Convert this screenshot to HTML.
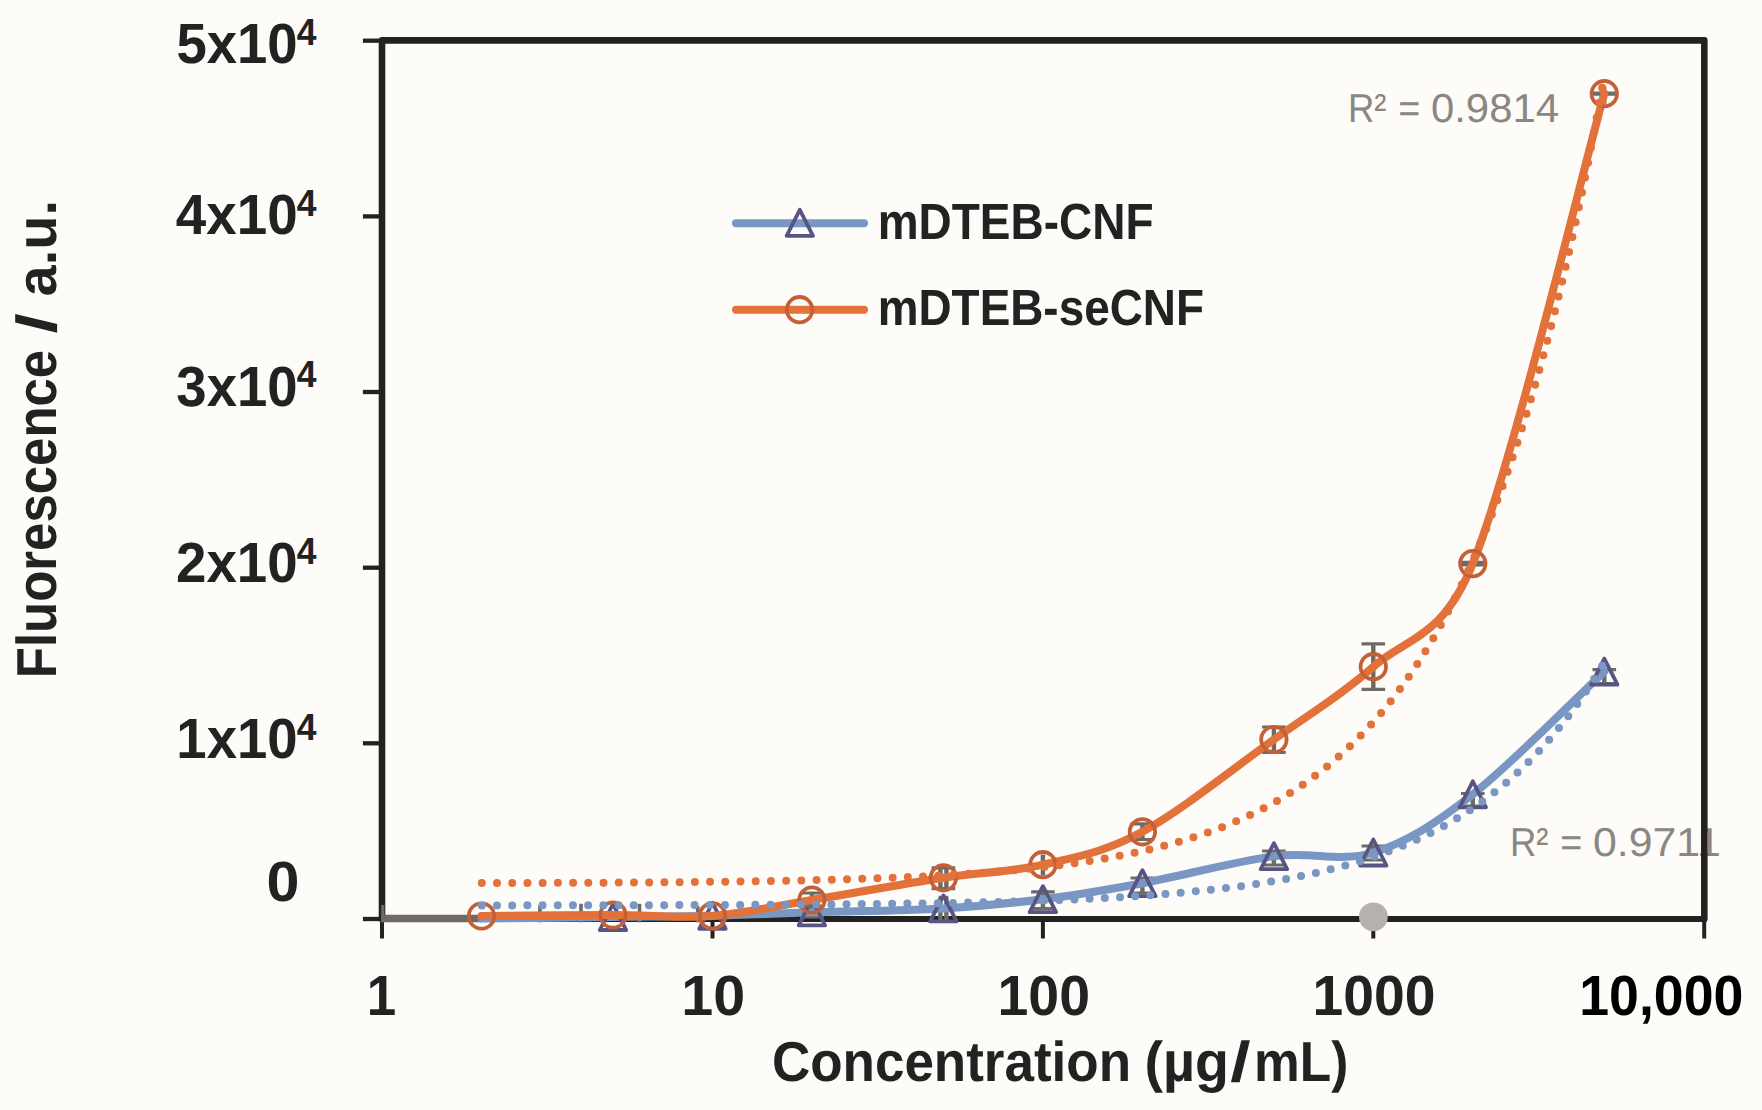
<!DOCTYPE html>
<html lang="en"><head><meta charset="utf-8"><title>Fluorescence vs Concentration</title>
<style>html,body{margin:0;padding:0;background:#FDFCF8}body{width:1762px;height:1110px;overflow:hidden}svg{display:block}text{font-family:"Liberation Sans",sans-serif;text-rendering:geometricPrecision}.b{font-weight:bold;fill:#222222}</style></head><body>
<svg width="1762" height="1110" viewBox="0 0 1762 1110">
<rect width="1762" height="1110" fill="#FDFCF8"/>
<text y="121.5" font-size="40.3" fill="#8B8682"><tspan x="1347.88" textLength="38.52" lengthAdjust="spacingAndGlyphs">R²</tspan> <tspan x="1398.16" textLength="22.02" lengthAdjust="spacingAndGlyphs">=</tspan> <tspan x="1430.94" textLength="128.10" lengthAdjust="spacingAndGlyphs">0.9814</tspan></text>
<text y="855.6" font-size="40.3" fill="#8B8682"><tspan x="1509.98" textLength="38.52" lengthAdjust="spacingAndGlyphs">R²</tspan> <tspan x="1560.26" textLength="22.02" lengthAdjust="spacingAndGlyphs">=</tspan> <tspan x="1593.00" textLength="127.81" lengthAdjust="spacingAndGlyphs">0.9711</tspan></text>
<path d="M382.0 919.0 V40.4 H1704.3 V919.0" fill="none" stroke="#222222" stroke-width="6.6" stroke-linejoin="round" stroke-linecap="round"/>
<path d="M382.0 919.0 H1704.3" fill="none" stroke="#222222" stroke-width="5.8" stroke-linecap="round"/>
<line x1="362.9" x2="382" y1="919.0" y2="919.0" stroke="#222222" stroke-width="4.3"/>
<line x1="362.9" x2="382" y1="743.3" y2="743.3" stroke="#222222" stroke-width="4.3"/>
<line x1="362.9" x2="382" y1="567.7" y2="567.7" stroke="#222222" stroke-width="4.3"/>
<line x1="362.9" x2="382" y1="392.0" y2="392.0" stroke="#222222" stroke-width="4.3"/>
<line x1="362.9" x2="382" y1="216.4" y2="216.4" stroke="#222222" stroke-width="4.3"/>
<line x1="362.9" x2="382" y1="40.7" y2="40.7" stroke="#222222" stroke-width="4.3"/>
<line x1="382.0" x2="382.0" y1="918" y2="938.5" stroke="#222222" stroke-width="4"/>
<line x1="712.5" x2="712.5" y1="918" y2="938.5" stroke="#222222" stroke-width="4"/>
<line x1="1042.9" x2="1042.9" y1="918" y2="938.5" stroke="#222222" stroke-width="4"/>
<line x1="1373.3" x2="1373.3" y1="918" y2="938.5" stroke="#222222" stroke-width="4"/>
<line x1="1704.2" x2="1704.2" y1="918" y2="938.5" stroke="#222222" stroke-width="4"/>
<path d="M381 918.5 H482" fill="none" stroke="#6E6A64" stroke-width="7.4"/>
<path d="M382.8 905 V920" fill="none" stroke="#6E6A64" stroke-width="3.2"/>
<line x1="539.9" x2="539.9" y1="905.5" y2="922.3" stroke="#6E6A64" stroke-width="3.6"/>
<line x1="581.0" x2="581.0" y1="903.8" y2="922.3" stroke="#6E6A64" stroke-width="3.6"/>
<line x1="639.5" x2="639.5" y1="903.8" y2="922.3" stroke="#6E6A64" stroke-width="3.6"/>
<line x1="697.7" x2="697.7" y1="906.0" y2="922.3" stroke="#6E6A64" stroke-width="3.6"/>
<path d="M811.9 908.0 V917.0" fill="none" stroke="#6E6A64" stroke-width="4.4"/><path d="M800.1 908.0 H823.7M800.1 917.0 H823.7" fill="none" stroke="#6E6A64" stroke-width="3.2"/>
<path d="M940.4 897.4 V921.0" fill="none" stroke="#6E6A64" stroke-width="4.4"/><path d="M946.4 897.4 V921.0" fill="none" stroke="#6E6A64" stroke-width="4.4"/><path d="M938.6 897.4 H948.2M938.6 921.0 H948.2" fill="none" stroke="#6E6A64" stroke-width="3.2"/>
<path d="M1042.9 891.8 V908.7" fill="none" stroke="#6E6A64" stroke-width="4.4"/><path d="M1031.1 891.8 H1054.7M1031.1 908.7 H1054.7" fill="none" stroke="#6E6A64" stroke-width="3.2"/>
<path d="M1142.4 878.0 V893.0" fill="none" stroke="#6E6A64" stroke-width="4.4"/><path d="M1130.6 878.0 H1154.2M1130.6 893.0 H1154.2" fill="none" stroke="#6E6A64" stroke-width="3.2"/>
<path d="M1273.9 851.0 V865.0" fill="none" stroke="#6E6A64" stroke-width="4.4"/><path d="M1262.1 851.0 H1285.7M1262.1 865.0 H1285.7" fill="none" stroke="#6E6A64" stroke-width="3.2"/>
<path d="M1373.3 846.0 V860.0" fill="none" stroke="#6E6A64" stroke-width="4.4"/><path d="M1361.5 846.0 H1385.1M1361.5 860.0 H1385.1" fill="none" stroke="#6E6A64" stroke-width="3.2"/>
<path d="M1472.8 793.5 V806.0" fill="none" stroke="#6E6A64" stroke-width="4.4"/><path d="M1461.0 793.5 H1484.6M1461.0 806.0 H1484.6" fill="none" stroke="#6E6A64" stroke-width="3.2"/>
<path d="M1604.3 669.7 V683.5" fill="none" stroke="#6E6A64" stroke-width="4.4"/><path d="M1592.5 669.7 H1616.1M1592.5 683.5 H1616.1" fill="none" stroke="#6E6A64" stroke-width="3.2"/>
<path d="M481.5 918.5 C503.4 918.2 574.5 917.5 613.0 917.0 C651.5 916.5 679.3 916.6 712.5 915.8 C745.6 915.0 773.4 913.5 811.9 912.3 C850.4 911.1 904.9 910.6 943.4 908.4 C981.9 906.2 1009.7 903.4 1042.9 899.2 C1076.1 895.0 1103.9 890.4 1142.4 883.2 C1180.9 876.0 1235.4 861.3 1273.9 856.2 C1312.4 851.1 1340.2 862.8 1373.3 852.5 C1406.5 842.2 1434.3 824.4 1472.8 794.3 C1511.3 764.1 1582.4 692.0 1604.3 671.6" fill="none" stroke="#7A97C3" stroke-width="8" stroke-linecap="round" stroke-linejoin="round"/>
<path d="M613.0 904.0 L626.2 930.0 L599.8 930.0 Z" fill="none" stroke="#585484" stroke-width="3.8" stroke-linejoin="round"/>
<path d="M712.5 902.8 L725.7 928.8 L699.2 928.8 Z" fill="none" stroke="#585484" stroke-width="3.8" stroke-linejoin="round"/>
<path d="M811.9 899.3 L825.1 925.3 L798.7 925.3 Z" fill="none" stroke="#585484" stroke-width="3.8" stroke-linejoin="round"/>
<path d="M943.4 895.4 L956.6 921.4 L930.2 921.4 Z" fill="none" stroke="#585484" stroke-width="3.8" stroke-linejoin="round"/>
<path d="M1042.9 886.2 L1056.1 912.2 L1029.7 912.2 Z" fill="none" stroke="#585484" stroke-width="3.8" stroke-linejoin="round"/>
<path d="M1142.4 870.2 L1155.6 896.2 L1129.2 896.2 Z" fill="none" stroke="#585484" stroke-width="3.8" stroke-linejoin="round"/>
<path d="M1273.9 843.2 L1287.1 869.2 L1260.7 869.2 Z" fill="none" stroke="#585484" stroke-width="3.8" stroke-linejoin="round"/>
<path d="M1373.3 839.5 L1386.5 865.5 L1360.1 865.5 Z" fill="none" stroke="#585484" stroke-width="3.8" stroke-linejoin="round"/>
<path d="M1472.8 781.3 L1486.0 807.3 L1459.6 807.3 Z" fill="none" stroke="#585484" stroke-width="3.8" stroke-linejoin="round"/>
<path d="M1604.3 658.6 L1617.5 684.6 L1591.1 684.6 Z" fill="none" stroke="#585484" stroke-width="3.8" stroke-linejoin="round"/>
<path d="M811.9 893.0 V906.0" fill="none" stroke="#6E6A64" stroke-width="4.4"/><path d="M800.1 893.0 H823.7M800.1 906.0 H823.7" fill="none" stroke="#6E6A64" stroke-width="3.2"/>
<path d="M940.4 867.8 V888.7" fill="none" stroke="#6E6A64" stroke-width="4.4"/><path d="M946.4 867.8 V888.7" fill="none" stroke="#6E6A64" stroke-width="4.4"/><path d="M931.6 867.8 H955.2M931.6 888.7 H955.2" fill="none" stroke="#6E6A64" stroke-width="3.2"/>
<path d="M1042.9 854.5 V875.5" fill="none" stroke="#6E6A64" stroke-width="4.4"/>
<path d="M1142.4 823.8 V839.5" fill="none" stroke="#6E6A64" stroke-width="4.4"/><path d="M1130.6 823.8 H1154.2M1130.6 839.5 H1154.2" fill="none" stroke="#6E6A64" stroke-width="3.2"/>
<path d="M1273.9 727.0 V752.3" fill="none" stroke="#6E6A64" stroke-width="4.4"/><path d="M1262.1 727.0 H1285.7M1262.1 752.3 H1285.7" fill="none" stroke="#6E6A64" stroke-width="3.2"/>
<path d="M1373.3 643.8 V689.3" fill="none" stroke="#6E6A64" stroke-width="4.4"/><path d="M1361.5 643.8 H1385.1M1361.5 689.3 H1385.1" fill="none" stroke="#6E6A64" stroke-width="3.2"/>
<path d="M1472.8 562.4 V564.8" fill="none" stroke="#6E6A64" stroke-width="4.4"/><path d="M1461.0 562.4 H1484.6M1461.0 564.8 H1484.6" fill="none" stroke="#6E6A64" stroke-width="3.2"/>
<path d="M1604.3 93.2 V94.2" fill="none" stroke="#6E6A64" stroke-width="4.4"/><path d="M1592.5 93.2 H1616.1M1592.5 94.2 H1616.1" fill="none" stroke="#6E6A64" stroke-width="3.2"/>
<path d="M1604.6 87 V104" fill="none" stroke="#6E6A64" stroke-width="3.6"/>
<path d="M481.5 916.0 C503.4 915.9 574.5 915.0 613.0 915.0 C651.5 915.0 679.3 918.4 712.5 915.9 C745.6 913.4 773.4 906.3 811.9 900.0 C850.4 893.6 904.9 883.7 943.4 877.8 C981.9 871.9 1009.7 872.4 1042.9 864.7 C1076.1 857.0 1103.9 852.7 1142.4 831.8 C1180.9 810.9 1235.4 767.0 1273.9 739.5 C1312.4 712.0 1340.2 696.0 1373.3 666.7 C1406.5 637.4 1442.3 639.3 1472.8 563.6 C1511.3 468.1 1582.4 172.0 1604.3 93.7" fill="none" stroke="#E2723A" stroke-width="8" stroke-linecap="round" stroke-linejoin="round"/>
<circle cx="481.5" cy="916.0" r="12.7" fill="none" stroke="#C46038" stroke-width="3.8"/>
<circle cx="613.0" cy="915.0" r="12.7" fill="none" stroke="#C46038" stroke-width="3.8"/>
<circle cx="712.5" cy="915.9" r="12.7" fill="none" stroke="#C46038" stroke-width="3.8"/>
<circle cx="811.9" cy="900.0" r="12.7" fill="none" stroke="#C46038" stroke-width="3.8"/>
<circle cx="943.4" cy="877.8" r="12.7" fill="none" stroke="#C46038" stroke-width="3.8"/>
<circle cx="1042.9" cy="864.7" r="12.7" fill="none" stroke="#C46038" stroke-width="3.8"/>
<circle cx="1142.4" cy="831.8" r="12.7" fill="none" stroke="#C46038" stroke-width="3.8"/>
<circle cx="1273.9" cy="739.5" r="12.7" fill="none" stroke="#C46038" stroke-width="3.8"/>
<circle cx="1373.3" cy="666.7" r="12.7" fill="none" stroke="#C46038" stroke-width="3.8"/>
<circle cx="1472.8" cy="563.6" r="12.7" fill="none" stroke="#C46038" stroke-width="3.8"/>
<circle cx="1604.3" cy="93.7" r="12.7" fill="none" stroke="#C46038" stroke-width="3.8"/>
<path d="M1602.18 665.70 L1599.38 670.34 L1596.58 674.88 L1593.78 679.34 L1590.98 683.72 L1588.18 688.00 L1585.37 692.21 L1582.57 696.33 L1579.77 700.38 L1576.97 704.34 L1574.17 708.23 L1571.37 712.05 L1568.56 715.79 L1565.76 719.45 L1562.96 723.05 L1560.16 726.58 L1557.36 730.04 L1554.55 733.43 L1551.75 736.76 L1548.95 740.02 L1546.15 743.22 L1543.35 746.35 L1540.55 749.43 L1537.74 752.45 L1534.94 755.41 L1532.14 758.31 L1529.34 761.16 L1526.54 763.95 L1523.74 766.68 L1520.93 769.37 L1518.13 772.00 L1515.33 774.58 L1512.53 777.11 L1509.73 779.59 L1506.92 782.03 L1504.12 784.41 L1501.32 786.76 L1498.52 789.05 L1495.72 791.30 L1492.92 793.51 L1490.11 795.68 L1487.31 797.80 L1484.51 799.88 L1481.71 801.92 L1478.91 803.93 L1476.10 805.89 L1473.30 807.82 L1470.50 809.70 L1467.70 811.56 L1464.90 813.37 L1462.10 815.15 L1459.29 816.90 L1456.49 818.61 L1453.69 820.29 L1450.89 821.94 L1448.09 823.56 L1445.29 825.14 L1442.48 826.69 L1439.68 828.22 L1436.88 829.71 L1434.08 831.18 L1431.28 832.61 L1428.47 834.02 L1425.67 835.40 L1422.87 836.76 L1420.07 838.09 L1417.27 839.39 L1414.47 840.67 L1411.66 841.92 L1408.86 843.15 L1406.06 844.36 L1403.26 845.54 L1400.46 846.70 L1397.66 847.84 L1394.85 848.95 L1392.05 850.04 L1389.25 851.12 L1386.45 852.17 L1383.65 853.20 L1380.84 854.21 L1378.04 855.20 L1375.24 856.17 L1372.44 857.13 L1369.64 858.06 L1366.84 858.98 L1364.03 859.88 L1361.23 860.76 L1358.43 861.63 L1355.63 862.47 L1352.83 863.31 L1350.03 864.12 L1347.22 864.92 L1344.42 865.71 L1341.62 866.48 L1338.82 867.23 L1336.02 867.97 L1333.21 868.70 L1330.41 869.41 L1327.61 870.11 L1324.81 870.79 L1322.01 871.46 L1319.21 872.12 L1316.40 872.76 L1313.60 873.40 L1310.80 874.02 L1308.00 874.63 L1305.20 875.22 L1302.40 875.81 L1299.59 876.38 L1296.79 876.95 L1293.99 877.50 L1291.19 878.04 L1288.39 878.57 L1285.58 879.09 L1282.78 879.60 L1279.98 880.10 L1277.18 880.59 L1274.38 881.07 L1271.58 881.55 L1268.77 882.01 L1265.97 882.46 L1263.17 882.91 L1260.37 883.35 L1257.57 883.77 L1254.76 884.19 L1251.96 884.61 L1249.16 885.01 L1246.36 885.41 L1243.56 885.80 L1240.76 886.18 L1237.95 886.55 L1235.15 886.92 L1232.35 887.28 L1229.55 887.63 L1226.75 887.97 L1223.95 888.31 L1221.14 888.64 L1218.34 888.97 L1215.54 889.29 L1212.74 889.60 L1209.94 889.91 L1207.13 890.21 L1204.33 890.51 L1201.53 890.80 L1198.73 891.08 L1195.93 891.36 L1193.13 891.63 L1190.32 891.90 L1187.52 892.16 L1184.72 892.42 L1181.92 892.68 L1179.12 892.92 L1176.32 893.17 L1173.51 893.40 L1170.71 893.64 L1167.91 893.87 L1165.11 894.09 L1162.31 894.31 L1159.50 894.53 L1156.70 894.74 L1153.90 894.95 L1151.10 895.15 L1148.30 895.35 L1145.50 895.55 L1142.69 895.74 L1139.89 895.93 L1137.09 896.12 L1134.29 896.30 L1131.49 896.48 L1128.69 896.65 L1125.88 896.82 L1123.08 896.99 L1120.28 897.15 L1117.48 897.31 L1114.68 897.47 L1111.87 897.63 L1109.07 897.78 L1106.27 897.93 L1103.47 898.08 L1100.67 898.22 L1097.87 898.36 L1095.06 898.50 L1092.26 898.63 L1089.46 898.77 L1086.66 898.90 L1083.86 899.02 L1081.05 899.15 L1078.25 899.27 L1075.45 899.39 L1072.65 899.51 L1069.85 899.63 L1067.05 899.74 L1064.24 899.85 L1061.44 899.96 L1058.64 900.07 L1055.84 900.17 L1053.04 900.28 L1050.24 900.38 L1047.43 900.48 L1044.63 900.57 L1041.83 900.67 L1039.03 900.76 L1036.23 900.85 L1033.42 900.94 L1030.62 901.03 L1027.82 901.12 L1025.02 901.20 L1022.22 901.29 L1019.42 901.37 L1016.61 901.45 L1013.81 901.53 L1011.01 901.60 L1008.21 901.68 L1005.41 901.75 L1002.61 901.82 L999.80 901.89 L997.00 901.96 L994.20 902.03 L991.40 902.10 L988.60 902.17 L985.79 902.23 L982.99 902.29 L980.19 902.36 L977.39 902.42 L974.59 902.48 L971.79 902.53 L968.98 902.59 L966.18 902.65 L963.38 902.70 L960.58 902.76 L957.78 902.81 L954.98 902.86 L952.17 902.91 L949.37 902.96 L946.57 903.01 L943.77 903.06 L940.97 903.11 L938.16 903.15 L935.36 903.20 L932.56 903.24 L929.76 903.29 L926.96 903.33 L924.16 903.37 L921.35 903.41 L918.55 903.45 L915.75 903.49 L912.95 903.53 L910.15 903.57 L907.34 903.61 L904.54 903.64 L901.74 903.68 L898.94 903.71 L896.14 903.75 L893.34 903.78 L890.53 903.82 L887.73 903.85 L884.93 903.88 L882.13 903.91 L879.33 903.94 L876.53 903.97 L873.72 904.00 L870.92 904.03 L868.12 904.06 L865.32 904.09 L862.52 904.11 L859.71 904.14 L856.91 904.17 L854.11 904.19 L851.31 904.22 L848.51 904.24 L845.71 904.27 L842.90 904.29 L840.10 904.32 L837.30 904.34 L834.50 904.36 L831.70 904.38 L828.90 904.40 L826.09 904.43 L823.29 904.45 L820.49 904.47 L817.69 904.49 L814.89 904.51 L812.08 904.53 L809.28 904.54 L806.48 904.56 L803.68 904.58 L800.88 904.60 L798.08 904.62 L795.27 904.63 L792.47 904.65 L789.67 904.67 L786.87 904.68 L784.07 904.70 L781.27 904.71 L778.46 904.73 L775.66 904.74 L772.86 904.76 L770.06 904.77 L767.26 904.79 L764.45 904.80 L761.65 904.81 L758.85 904.83 L756.05 904.84 L753.25 904.85 L750.45 904.87 L747.64 904.88 L744.84 904.89 L742.04 904.90 L739.24 904.91 L736.44 904.92 L733.63 904.94 L730.83 904.95 L728.03 904.96 L725.23 904.97 L722.43 904.98 L719.63 904.99 L716.82 905.00 L714.02 905.01 L711.22 905.02 L708.42 905.03 L705.62 905.04 L702.82 905.04 L700.01 905.05 L697.21 905.06 L694.41 905.07 L691.61 905.08 L688.81 905.09 L686.00 905.10 L683.20 905.10 L680.40 905.11 L677.60 905.12 L674.80 905.13 L672.00 905.13 L669.19 905.14 L666.39 905.15 L663.59 905.15 L660.79 905.16 L657.99 905.17 L655.19 905.17 L652.38 905.18 L649.58 905.19 L646.78 905.19 L643.98 905.20 L641.18 905.20 L638.37 905.21 L635.57 905.22 L632.77 905.22 L629.97 905.23 L627.17 905.23 L624.37 905.24 L621.56 905.24 L618.76 905.25 L615.96 905.25 L613.16 905.26 L610.36 905.26 L607.56 905.27 L604.75 905.27 L601.95 905.27 L599.15 905.28 L596.35 905.28 L593.55 905.29 L590.74 905.29 L587.94 905.30 L585.14 905.30 L582.34 905.30 L579.54 905.31 L576.74 905.31 L573.93 905.31 L571.13 905.32 L568.33 905.32 L565.53 905.33 L562.73 905.33 L559.93 905.33 L557.12 905.34 L554.32 905.34 L551.52 905.34 L548.72 905.34 L545.92 905.35 L543.11 905.35 L540.31 905.35 L537.51 905.36 L534.71 905.36 L531.91 905.36 L529.11 905.36 L526.30 905.37 L523.50 905.37 L520.70 905.37 L517.90 905.37 L515.10 905.38 L512.29 905.38 L509.49 905.38 L506.69 905.38 L503.89 905.39 L501.09 905.39 L498.29 905.39 L495.48 905.39 L492.68 905.39 L489.88 905.40 L487.08 905.40 L484.28 905.40 L481.48 905.40" fill="none" stroke="#7A97C3" stroke-width="8" stroke-linecap="round" stroke-dasharray="0 15.1989"/>
<path d="M1602.18 87.87 L1599.38 103.25 L1596.58 118.34 L1593.78 133.13 L1590.98 147.63 L1588.18 161.86 L1585.37 175.81 L1582.57 189.49 L1579.77 202.91 L1576.97 216.06 L1574.17 228.96 L1571.37 241.62 L1568.56 254.03 L1565.76 266.19 L1562.96 278.13 L1560.16 289.83 L1557.36 301.31 L1554.55 312.56 L1551.75 323.60 L1548.95 334.42 L1546.15 345.03 L1543.35 355.44 L1540.55 365.65 L1537.74 375.66 L1534.94 385.48 L1532.14 395.10 L1529.34 404.55 L1526.54 413.80 L1523.74 422.88 L1520.93 431.79 L1518.13 440.52 L1515.33 449.08 L1512.53 457.48 L1509.73 465.71 L1506.92 473.79 L1504.12 481.71 L1501.32 489.48 L1498.52 497.09 L1495.72 504.56 L1492.92 511.89 L1490.11 519.07 L1487.31 526.11 L1484.51 533.02 L1481.71 539.80 L1478.91 546.44 L1476.10 552.95 L1473.30 559.34 L1470.50 565.61 L1467.70 571.75 L1464.90 577.78 L1462.10 583.69 L1459.29 589.48 L1456.49 595.17 L1453.69 600.74 L1450.89 606.20 L1448.09 611.56 L1445.29 616.82 L1442.48 621.97 L1439.68 627.03 L1436.88 631.98 L1434.08 636.85 L1431.28 641.61 L1428.47 646.29 L1425.67 650.87 L1422.87 655.37 L1420.07 659.78 L1417.27 664.10 L1414.47 668.34 L1411.66 672.50 L1408.86 676.58 L1406.06 680.58 L1403.26 684.50 L1400.46 688.34 L1397.66 692.12 L1394.85 695.81 L1392.05 699.44 L1389.25 703.00 L1386.45 706.49 L1383.65 709.91 L1380.84 713.26 L1378.04 716.55 L1375.24 719.78 L1372.44 722.94 L1369.64 726.04 L1366.84 729.09 L1364.03 732.07 L1361.23 735.00 L1358.43 737.87 L1355.63 740.68 L1352.83 743.44 L1350.03 746.15 L1347.22 748.80 L1344.42 751.40 L1341.62 753.96 L1338.82 756.46 L1336.02 758.91 L1333.21 761.32 L1330.41 763.68 L1327.61 766.00 L1324.81 768.27 L1322.01 770.49 L1319.21 772.68 L1316.40 774.82 L1313.60 776.92 L1310.80 778.98 L1308.00 780.99 L1305.20 782.97 L1302.40 784.92 L1299.59 786.82 L1296.79 788.69 L1293.99 790.52 L1291.19 792.32 L1288.39 794.08 L1285.58 795.81 L1282.78 797.50 L1279.98 799.16 L1277.18 800.79 L1274.38 802.39 L1271.58 803.95 L1268.77 805.49 L1265.97 807.00 L1263.17 808.47 L1260.37 809.92 L1257.57 811.34 L1254.76 812.74 L1251.96 814.10 L1249.16 815.44 L1246.36 816.76 L1243.56 818.05 L1240.76 819.31 L1237.95 820.55 L1235.15 821.77 L1232.35 822.96 L1229.55 824.13 L1226.75 825.27 L1223.95 826.40 L1221.14 827.50 L1218.34 828.58 L1215.54 829.64 L1212.74 830.68 L1209.94 831.70 L1207.13 832.70 L1204.33 833.68 L1201.53 834.64 L1198.73 835.59 L1195.93 836.51 L1193.13 837.42 L1190.32 838.31 L1187.52 839.18 L1184.72 840.03 L1181.92 840.87 L1179.12 841.70 L1176.32 842.50 L1173.51 843.29 L1170.71 844.07 L1167.91 844.83 L1165.11 845.58 L1162.31 846.31 L1159.50 847.03 L1156.70 847.73 L1153.90 848.42 L1151.10 849.10 L1148.30 849.76 L1145.50 850.41 L1142.69 851.05 L1139.89 851.67 L1137.09 852.29 L1134.29 852.89 L1131.49 853.48 L1128.69 854.06 L1125.88 854.63 L1123.08 855.18 L1120.28 855.73 L1117.48 856.26 L1114.68 856.79 L1111.87 857.30 L1109.07 857.81 L1106.27 858.30 L1103.47 858.79 L1100.67 859.27 L1097.87 859.73 L1095.06 860.19 L1092.26 860.64 L1089.46 861.08 L1086.66 861.51 L1083.86 861.94 L1081.05 862.35 L1078.25 862.76 L1075.45 863.16 L1072.65 863.55 L1069.85 863.93 L1067.05 864.31 L1064.24 864.68 L1061.44 865.04 L1058.64 865.40 L1055.84 865.75 L1053.04 866.09 L1050.24 866.42 L1047.43 866.75 L1044.63 867.07 L1041.83 867.39 L1039.03 867.70 L1036.23 868.00 L1033.42 868.30 L1030.62 868.59 L1027.82 868.88 L1025.02 869.16 L1022.22 869.44 L1019.42 869.71 L1016.61 869.97 L1013.81 870.23 L1011.01 870.49 L1008.21 870.74 L1005.41 870.98 L1002.61 871.22 L999.80 871.46 L997.00 871.69 L994.20 871.92 L991.40 872.14 L988.60 872.36 L985.79 872.57 L982.99 872.78 L980.19 872.99 L977.39 873.19 L974.59 873.39 L971.79 873.58 L968.98 873.77 L966.18 873.96 L963.38 874.14 L960.58 874.32 L957.78 874.50 L954.98 874.67 L952.17 874.84 L949.37 875.00 L946.57 875.17 L943.77 875.33 L940.97 875.48 L938.16 875.64 L935.36 875.79 L932.56 875.93 L929.76 876.08 L926.96 876.22 L924.16 876.36 L921.35 876.50 L918.55 876.63 L915.75 876.76 L912.95 876.89 L910.15 877.02 L907.34 877.14 L904.54 877.26 L901.74 877.38 L898.94 877.50 L896.14 877.61 L893.34 877.72 L890.53 877.83 L887.73 877.94 L884.93 878.05 L882.13 878.15 L879.33 878.25 L876.53 878.35 L873.72 878.45 L870.92 878.55 L868.12 878.64 L865.32 878.73 L862.52 878.82 L859.71 878.91 L856.91 879.00 L854.11 879.09 L851.31 879.17 L848.51 879.25 L845.71 879.33 L842.90 879.41 L840.10 879.49 L837.30 879.57 L834.50 879.64 L831.70 879.71 L828.90 879.78 L826.09 879.85 L823.29 879.92 L820.49 879.99 L817.69 880.06 L814.89 880.12 L812.08 880.19 L809.28 880.25 L806.48 880.31 L803.68 880.37 L800.88 880.43 L798.08 880.49 L795.27 880.54 L792.47 880.60 L789.67 880.65 L786.87 880.71 L784.07 880.76 L781.27 880.81 L778.46 880.86 L775.66 880.91 L772.86 880.96 L770.06 881.01 L767.26 881.05 L764.45 881.10 L761.65 881.14 L758.85 881.19 L756.05 881.23 L753.25 881.27 L750.45 881.32 L747.64 881.36 L744.84 881.40 L742.04 881.44 L739.24 881.47 L736.44 881.51 L733.63 881.55 L730.83 881.58 L728.03 881.62 L725.23 881.65 L722.43 881.69 L719.63 881.72 L716.82 881.76 L714.02 881.79 L711.22 881.82 L708.42 881.85 L705.62 881.88 L702.82 881.91 L700.01 881.94 L697.21 881.97 L694.41 882.00 L691.61 882.02 L688.81 882.05 L686.00 882.08 L683.20 882.10 L680.40 882.13 L677.60 882.15 L674.80 882.18 L672.00 882.20 L669.19 882.23 L666.39 882.25 L663.59 882.27 L660.79 882.29 L657.99 882.32 L655.19 882.34 L652.38 882.36 L649.58 882.38 L646.78 882.40 L643.98 882.42 L641.18 882.44 L638.37 882.46 L635.57 882.47 L632.77 882.49 L629.97 882.51 L627.17 882.53 L624.37 882.55 L621.56 882.56 L618.76 882.58 L615.96 882.60 L613.16 882.61 L610.36 882.63 L607.56 882.64 L604.75 882.66 L601.95 882.67 L599.15 882.69 L596.35 882.70 L593.55 882.71 L590.74 882.73 L587.94 882.74 L585.14 882.75 L582.34 882.77 L579.54 882.78 L576.74 882.79 L573.93 882.80 L571.13 882.82 L568.33 882.83 L565.53 882.84 L562.73 882.85 L559.93 882.86 L557.12 882.87 L554.32 882.88 L551.52 882.89 L548.72 882.90 L545.92 882.91 L543.11 882.92 L540.31 882.93 L537.51 882.94 L534.71 882.95 L531.91 882.96 L529.11 882.97 L526.30 882.98 L523.50 882.99 L520.70 883.00 L517.90 883.00 L515.10 883.01 L512.29 883.02 L509.49 883.03 L506.69 883.03 L503.89 883.04 L501.09 883.05 L498.29 883.06 L495.48 883.06 L492.68 883.07 L489.88 883.08 L487.08 883.08 L484.28 883.09 L481.48 883.10" fill="none" stroke="#E2723A" stroke-width="8" stroke-linecap="round" stroke-dasharray="0 15.2191"/>
<circle cx="1373.4" cy="916.8" r="14.4" fill="#B7B1AE"/>
<line x1="736" x2="864" y1="223.35" y2="223.35" stroke="#7A97C3" stroke-width="8" stroke-linecap="round"/>
<path d="M799.8 209.8 L813.0 235.8 L786.6 235.8 Z" fill="none" stroke="#585484" stroke-width="3.8" stroke-linejoin="round"/>
<line x1="736" x2="864" y1="309.85" y2="309.85" stroke="#E2723A" stroke-width="8" stroke-linecap="round"/>
<circle cx="799.6" cy="309.7" r="12.7" fill="none" stroke="#C46038" stroke-width="3.8"/>
<text class="b" x="877.70" y="238.60" font-size="50.8" textLength="275.78" lengthAdjust="spacingAndGlyphs">mDTEB-CNF</text>
<text class="b" x="877.71" y="324.80" font-size="50.8" textLength="326.26" lengthAdjust="spacingAndGlyphs">mDTEB-seCNF</text>
<text class="b" font-size="56.7"><tspan x="176.39" y="63.20" textLength="121.26" lengthAdjust="spacingAndGlyphs">5x10</tspan><tspan x="296.65" y="45.00" font-size="37.7" textLength="19.77" lengthAdjust="spacingAndGlyphs">4</tspan></text>
<text class="b" font-size="56.7"><tspan x="175.87" y="234.20" textLength="121.79" lengthAdjust="spacingAndGlyphs">4x10</tspan><tspan x="296.65" y="216.00" font-size="37.7" textLength="19.77" lengthAdjust="spacingAndGlyphs">4</tspan></text>
<text class="b" font-size="56.7"><tspan x="176.36" y="405.60" textLength="121.29" lengthAdjust="spacingAndGlyphs">3x10</tspan><tspan x="296.65" y="387.40" font-size="37.7" textLength="19.77" lengthAdjust="spacingAndGlyphs">4</tspan></text>
<text class="b" font-size="56.7"><tspan x="176.10" y="582.40" textLength="121.55" lengthAdjust="spacingAndGlyphs">2x10</tspan><tspan x="296.65" y="564.20" font-size="37.7" textLength="19.77" lengthAdjust="spacingAndGlyphs">4</tspan></text>
<text class="b" font-size="56.7"><tspan x="176.35" y="758.10" textLength="121.30" lengthAdjust="spacingAndGlyphs">1x10</tspan><tspan x="296.65" y="739.90" font-size="37.7" textLength="19.77" lengthAdjust="spacingAndGlyphs">4</tspan></text>
<text class="b" x="266.53" y="900.60" font-size="56.7" textLength="32.92" lengthAdjust="spacingAndGlyphs">0</text>
<text class="b" x="366.85" y="1015.40" font-size="56.7" textLength="29.43" lengthAdjust="spacingAndGlyphs">1</text>
<text class="b" x="681.37" y="1015.40" font-size="56.7" textLength="63.86" lengthAdjust="spacingAndGlyphs">10</text>
<text class="b" x="997.50" y="1015.40" font-size="56.7" textLength="92.46" lengthAdjust="spacingAndGlyphs">100</text>
<text class="b" x="1312.51" y="1015.40" font-size="56.7" textLength="122.87" lengthAdjust="spacingAndGlyphs">1000</text>
<text x="1579.21" y="1014.60" font-size="56.7" font-weight="bold" fill="#000" textLength="164.13" lengthAdjust="spacingAndGlyphs">10,000</text>
<text class="b" y="1080.9" font-size="56.3"><tspan x="771.99" textLength="359.04" lengthAdjust="spacingAndGlyphs">Concentration</tspan> <tspan x="1144.42" textLength="84.52" lengthAdjust="spacingAndGlyphs">(µg</tspan><tspan x="1230.26" textLength="20.35" lengthAdjust="spacingAndGlyphs">/</tspan><tspan x="1254.05" textLength="94.21" lengthAdjust="spacingAndGlyphs">mL)</tspan></text>
<text class="b" transform="translate(56.2 674.8) rotate(-90)" font-size="56.3"><tspan x="-3.41" textLength="328.41" lengthAdjust="spacingAndGlyphs">Fluorescence</tspan> <tspan x="341.26" textLength="20.35" lengthAdjust="spacingAndGlyphs">/</tspan> <tspan x="378.42" textLength="96.45" lengthAdjust="spacingAndGlyphs">a.u.</tspan></text>
</svg></body></html>
